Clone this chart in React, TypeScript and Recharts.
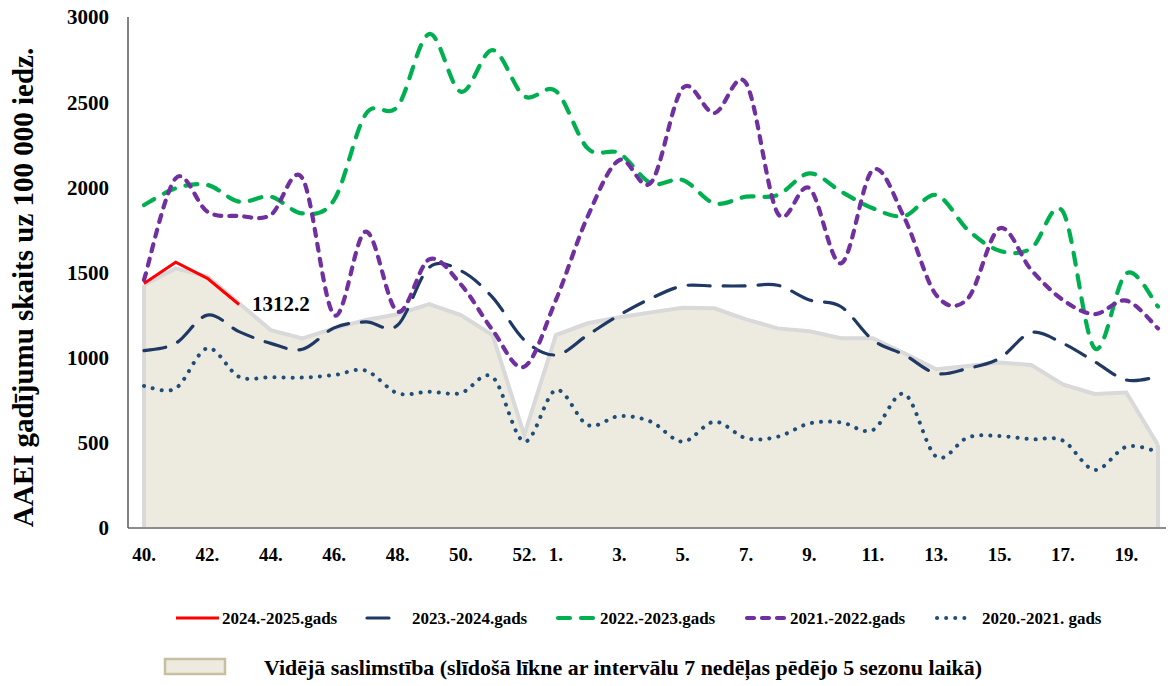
import React from 'react';
import {
  ComposedChart, Line, Area, XAxis, YAxis, ReferenceLine, LabelList,
} from 'recharts';

const weeks = [
  '40.', '41.', '42.', '43.', '44.', '45.', '46.', '47.', '48.', '49.', '50.', '51.', '52.',
  '1.', '2.', '3.', '4.', '5.', '6.', '7.', '8.', '9.', '10.', '11.', '12.', '13.', '14.',
  '15.', '16.', '17.', '18.', '19.', '20.',
];
const xTickLabels = [
  '40.', '42.', '44.', '46.', '48.', '50.', '52.', '1.', '3.', '5.', '7.', '9.', '11.',
  '13.', '15.', '17.', '19.',
];
const yTicks = [0, 500, 1000, 1500, 2000, 2500, 3000];

const avgSeries = [1427, 1524, 1476, 1319, 1162, 1113, 1172, 1221, 1255, 1315, 1250, 1133, 545,
  1133, 1202, 1237, 1266, 1293, 1290, 1225, 1172, 1155, 1114, 1114, 1025, 932, 951, 971, 957,
  843, 787, 795, 487];
const s2425 = [1436, 1560, 1466, 1312.2];
const s2324 = [1041, 1084, 1250, 1153, 1084, 1049, 1175, 1210, 1190, 1530, 1510, 1354, 1104,
  1016, 1133, 1250, 1348, 1421, 1421, 1421, 1425, 1339, 1299, 1104, 1016, 908, 937, 996, 1147,
  1084, 977, 869, 888];
const s2223 = [1896, 1994, 2014, 1916, 1945, 1847, 1926, 2430, 2474, 2900, 2561, 2806, 2535,
  2565, 2229, 2200, 2024, 2043, 1906, 1945, 1955, 2082, 1975, 1877, 1832, 1955, 1750, 1628,
  1642, 1857, 1055, 1495, 1300];
const s2122 = [1456, 2053, 1857, 1832, 1838, 2053, 1250, 1740, 1270, 1577, 1430, 1162, 947,
  1339, 1828, 2160, 2027, 2583, 2436, 2612, 1847, 1995, 1554, 2102, 1819, 1368, 1348, 1759,
  1515, 1339, 1256, 1335, 1172];
const s2021 = [834, 820, 1055, 888, 885, 883, 898, 924, 791, 800, 792, 886, 507, 810, 605, 657,
  624, 507, 624, 527, 536, 614, 620, 575, 787, 419, 532, 540, 521, 513, 341, 477, 448];

const seriesNames = ['2024.-2025.gads', '2023.-2024.gads', '2022.-2023.gads', '2021.-2022.gads', '2020.-2021. gads'];
const avgName = 'Vidējā saslimstība (slīdošā līkne ar intervālu 7 nedēļas pēdējo 5 sezonu laikā)';
const yTitle = 'AAEI gadījumu skaits uz 100 000 iedz.';

const data = weeks.map((w, i) => ({
  week: w,
  avg: avgSeries[i],
  s2425: i < s2425.length ? s2425[i] : null,
  s2324: s2324[i],
  s2223: s2223[i],
  s2122: s2122[i],
  s2021: s2021[i],
}));

const FONT = "'Liberation Serif','Times New Roman',serif";

// Excel-like smoothed curve (Catmull-Rom style bezier)
const smooth: any = (context: any) => {
  let pts: number[][] = [];
  return {
    areaStart() {},
    areaEnd() {},
    lineStart() { pts = []; },
    point(x: number, y: number) { pts.push([+x, +y]); },
    lineEnd() {
      const n = pts.length;
      if (!n) return;
      context.moveTo(pts[0][0], pts[0][1]);
      const t = 1 / 6;
      for (let i = 0; i < n - 1; i++) {
        const p0 = pts[Math.max(0, i - 1)];
        const p1 = pts[i];
        const p2 = pts[i + 1];
        const p3 = pts[Math.min(n - 1, i + 2)];
        context.bezierCurveTo(
          p1[0] + (p2[0] - p0[0]) * t, p1[1] + (p2[1] - p0[1]) * t,
          p2[0] - (p3[0] - p1[0]) * t, p2[1] - (p3[1] - p1[1]) * t,
          p2[0], p2[1],
        );
      }
    },
  };
};

const styles = {
  s2425: { stroke: '#FF0000', width: 3, dash: undefined as string | undefined, cap: 'butt' },
  s2324: { stroke: '#1F3864', width: 3.2, dash: '22 13', cap: 'round' },
  s2223: { stroke: '#00B050', width: 4.2, dash: '12 11', cap: 'round' },
  s2122: { stroke: '#7030A0', width: 4.2, dash: '7 8', cap: 'round' },
  s2021: { stroke: '#1F4E79', width: 4, dash: '0.1 9', cap: 'round' },
};

const redLabel = (p: any) => {
  if (p.index !== s2425.length - 1) return null;
  return (
    <text x={p.x + 13} y={p.y} dominantBaseline="central" fontFamily={FONT}
      fontWeight={700} fontSize={21} fill="#000">{p.value}</text>
  );
};

const yTitleLabel = (p: any) => {
  const vb = p.viewBox || { x: 68, y: 17, width: 60, height: 511 };
  const cx = vb.x - 35;
  const cy = vb.y + vb.height / 2 + 15;
  return (
    <text transform={`translate(${cx},${cy}) rotate(-90)`} textAnchor="middle"
      fontFamily={FONT} fontWeight={700} fontSize={29} fill="#000">{yTitle}</text>
  );
};

const LegendBox = () => {
  const rowY = 23;
  const items = [
    { key: 's2425', x1: 176, x2: 219, tx: 222 },
    { key: 's2324', x1: 367, x2: 394, tx: 412 },
    { key: 's2223', x1: 558, x2: 597, tx: 600 },
    { key: 's2122', x1: 747, x2: 789, tx: 790 },
    { key: 's2021', x1: 937, x2: 969, tx: 982 },
  ];
  return (
    <svg width={1174} height={91} style={{ position: 'absolute', left: 0, top: 595 }}>
      {items.map((it, i) => {
        const st = (styles as any)[it.key];
        return (
          <g key={it.key}>
            <line x1={it.x1} x2={it.x2} y1={rowY} y2={rowY} stroke={st.stroke}
              strokeWidth={st.width} strokeDasharray={st.dash} strokeLinecap={st.cap} />
            <text x={it.tx} y={rowY} dominantBaseline="central" fontFamily={FONT}
              fontWeight={700} fontSize={17} fill="#000">{seriesNames[i]}</text>
          </g>
        );
      })}
      <rect x={165} y={64} width={60} height={15} fill="#EDEAE0" stroke="#C8BFA0" strokeWidth={2.5} />
      <text x={264} y={73} dominantBaseline="central" fontFamily={FONT} fontWeight={700}
        fontSize={21} textLength={718} lengthAdjust="spacingAndGlyphs" fill="#000">{avgName}</text>
    </svg>
  );
};

export default function App() {
  return (
    <div style={{ position: 'relative', width: 1174, height: 686, marginLeft: -8, marginTop: -8, background: '#fff' }}>
      <ComposedChart width={1174} height={686} data={data}
        margin={{ top: 17, right: 0, bottom: 128, left: 68 }}>
        <XAxis dataKey="week" interval={0} tickLine={false} tickSize={0} tickMargin={20}
          height={30} padding={{ left: 16, right: 16 }}
          tickFormatter={(v: string) => (xTickLabels.includes(v) ? v : '')}
          axisLine={{ stroke: '#8C8C8C', strokeWidth: 2 }}
          tick={{ fontSize: 19, fontWeight: 700, fill: '#000', fontFamily: FONT }} />
        <YAxis domain={[0, 3000]} ticks={yTicks} width={60} tickLine={false} tickSize={0}
          tickMargin={19} axisLine={{ stroke: '#595959', strokeWidth: 1.5 }}
          tick={{ fontSize: 21, fontWeight: 700, fill: '#000', fontFamily: FONT }}
          label={yTitleLabel} />
        <Area dataKey="avg" type="linear" fill="#EDEAE0" fillOpacity={1} stroke="#D9D9D9"
          strokeWidth={4} isAnimationActive={false} dot={false} activeDot={false} />
        <ReferenceLine segment={[{ x: weeks[0], y: 0 }, { x: weeks[0], y: avgSeries[0] }]}
          stroke="#D9D9D9" strokeWidth={4} />
        <ReferenceLine segment={[{ x: weeks[weeks.length - 1], y: 0 }, { x: weeks[weeks.length - 1], y: avgSeries[avgSeries.length - 1] }]}
          stroke="#D9D9D9" strokeWidth={4} />
        {(['s2021', 's2324', 's2223', 's2122'] as const).map((k) => (
          <Line key={k} dataKey={k} type={smooth} stroke={styles[k].stroke}
            strokeWidth={styles[k].width} strokeDasharray={styles[k].dash}
            strokeLinecap={styles[k].cap as any} dot={false} activeDot={false}
            isAnimationActive={false} />
        ))}
        <Line dataKey="s2425" type="linear" stroke="#FF0000" strokeWidth={3} dot={false}
          activeDot={false} isAnimationActive={false} connectNulls={false}>
          <LabelList dataKey="s2425" content={redLabel} />
        </Line>
      </ComposedChart>
      <LegendBox />
    </div>
  );
}
